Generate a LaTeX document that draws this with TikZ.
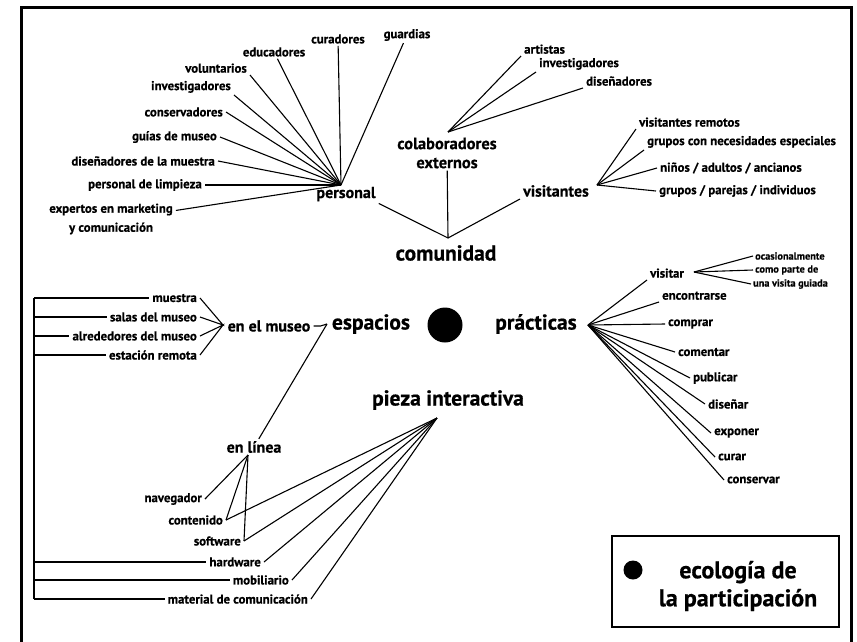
\documentclass[tikz,border=0pt]{standalone}
\usepackage{fontspec}
\setmainfont{PT Sans}[BoldFeatures={FakeBold=0.6}]
\begin{document}
\begin{tikzpicture}[x=1pt,y=-1pt,
  every node/.style={inner xsep=3pt,inner ysep=2pt},
  leaf/.style={font=\bfseries\fontsize{12.8}{19}\selectfont},
  tiny/.style={font=\bfseries\fontsize{10.3}{11}\selectfont,inner xsep=2pt},
  mid/.style={font=\bfseries\fontsize{16}{19}\selectfont},
  big/.style={font=\bfseries\fontsize{21.5}{22}\selectfont},
  link/.style={line width=1.1pt}]
\useasboundingbox (0,0) rectangle (857,641);
\draw [line width=3pt] (21.5,660) -- (21.5,7.5) -- (851.5,7.5) -- (851.5,660);

% comunidad
\node (comunidad) at (446,253) [big] {comunidad};
\coordinate (K) at (448,238);

\node (personal) at (346,194) [mid] {personal};
\coordinate (P) at (341,185);
\node (guardias) at (407,35) [leaf] {guardias};
\node (curadores) at (338,39) [leaf] {curadores};
\node (educadores) at (274,52) [leaf] {educadores};
\node (voluntarios) at (250,75) [leaf,anchor=south east] {voluntarios};
\node (investigadores) at (234,95) [leaf,anchor=south east] {investigadores};
\node (conservadores) at (226,112) [leaf,anchor=east] {conservadores};
\node (guias) at (220,137) [leaf,anchor=east] {guías de museo};
\node (disenadores) at (218,161) [leaf,anchor=east] {diseñadores de la muestra};
\node (limpieza) at (205,185) [leaf,anchor=east] {personal de limpieza};
\node (expertos) at (111,219) [leaf,align=center] {expertos en marketing\\y comunicación};
\draw [link] (P) -- (guardias);
\draw [link] (P) -- (curadores);
\draw [link] (P) -- (educadores);
\draw [link] (P) -- (voluntarios.south east);
\draw [link] (P) -- (investigadores.south east);
\draw [link] (P) -- (conservadores.east);
\draw [link] (P) -- (guias.east);
\draw [link] (P) -- (disenadores.east);
\draw [link] (P) -- (limpieza.east);
\draw [link] (P) -- ([yshift=-9pt]expertos.north east);

\node (colab) at (447,153) [mid,font=\bfseries\fontsize{16.5}{19}\selectfont,align=center] {colaboradores\\externos};
\coordinate (C) at (448,132);
\node (artistas) at (521,56) [leaf,anchor=south west] {artistas};
\node (invexternos) at (536,72) [leaf,anchor=south west] {investigadores};
\node (disexternos) at (583,88) [leaf,anchor=south west] {diseñadores};
\draw [link] (C) -- (artistas.south west);
\draw [link] (C) -- (invexternos.south west);
\draw [link] (C) -- (disexternos.south west);

\node (visitantes) at (556,191) [mid] {visitantes};
\coordinate (V) at (597,185);
\node (remotos) at (636,129) [leaf,anchor=south west] {visitantes remotos};
\node (especiales) at (644,150) [leaf,anchor=south west] {grupos con necesidades especiales};
\node (edades) at (657,168) [leaf,anchor=west] {niños / adultos / ancianos};
\node (grupos) at (656,191) [leaf,anchor=west] {grupos / parejas / individuos};
\draw [link] (V) -- (remotos.south west);
\draw [link] (V) -- (especiales.south west);
\draw [link] (V) -- (edades.west);
\draw [link] (V) -- (grupos.west);

\draw [link] (personal.south east) -- (K) -- (visitantes.south west);
\draw [link] (K) -- (colab);

% centro
\node (ecologia) at (445,325) [circle,fill,minimum size=35pt,inner sep=0pt] {};

% espacios
\node (espacios) at (371,324) [big] {espacios};
\coordinate (S) at (327,324);
\coordinate (B) at (34,0);
\node (enmuseo) at (269,326) [mid] {en el museo};
\coordinate (M) at (223,325);
\node (muestra) at (200,298) [leaf,anchor=east] {muestra};
\node (salas) at (200,317) [leaf,anchor=east] {salas del museo};
\node (alrededores) at (200,336) [leaf,anchor=east] {alrededores del museo};
\node (remota) at (200,355) [leaf,anchor=east] {estación remota};
\draw [link] (muestra.east) -- (M) -- (salas.east);
\draw [link] (alrededores.east) -- (M) -- (remota.east);
\draw [link] (enmuseo.east) -- ++(7,0) -- (S);

\node (enlinea) at (254,447) [mid] {en línea};
\coordinate (L) at (248,455);
\node (navegador) at (205,499) [leaf,anchor=east] {navegador};
\node (contenido) at (226,520) [leaf,anchor=east] {contenido};
\node (software) at (244,541) [leaf,anchor=east] {software};
\draw [link] (enlinea) -- (S);
\draw [link] (L) -- (navegador.east);
\draw [link] (L) -- (contenido.east);
\draw [link] (L) -- (software.east);

% pieza interactiva
\node (pieza) at (448,400) [big] {pieza interactiva};
\coordinate (Z) at (437,418);
\node (hardware) at (264,562) [leaf,anchor=east] {hardware};
\node (mobiliario) at (292,580) [leaf,anchor=east] {mobiliario};
\node (material) at (311,599) [leaf,anchor=east] {material de comunicación};
\draw [link] (Z) -- (contenido.east);
\draw [link] (Z) -- (software.east);
\draw [link] (Z) -- (hardware.east);
\draw [link] (Z) -- (mobiliario.east);
\draw [link] (Z) -- (material.east);

\draw [link] (muestra.west -| B) -- (material.west -| B);
\draw [link] (muestra.west -| B) -- (muestra.west);
\draw [link] (salas.west -| B) -- (salas.west);
\draw [link] (alrededores.west -| B) -- (alrededores.west);
\draw [link] (remota.west -| B) -- (remota.west);
\draw [link] (hardware.west -| B) -- (hardware.west);
\draw [link] (mobiliario.west -| B) -- (mobiliario.west);
\draw [link] (material.west -| B) -- (material.west);

% practicas
\node (practicas) at (536,324) [big] {prácticas};
\coordinate (R) at (588,325);
\node (visitar) at (647,280) [leaf,anchor=south west] {visitar};
\node (encontrarse) at (659,302) [leaf,anchor=south west] {encontrarse};
\node (comprar) at (665,324) [leaf,anchor=west] {comprar};
\node (comentar) at (675,352) [leaf,anchor=west] {comentar};
\node (publicar) at (690,378) [leaf,anchor=west] {publicar};
\node (disenar) at (705,404) [leaf,anchor=west] {diseñar};
\node (exponer) at (711,433) [leaf,anchor=west] {exponer};
\node (curar) at (715,457) [leaf,anchor=west] {curar};
\node (conservar) at (724,480) [leaf,anchor=west] {conservar};
\draw [link] (R) -- (visitar.south west);
\draw [link] (R) -- (encontrarse.south west);
\draw [link] (R) -- (comprar.west);
\draw [link] (R) -- (comentar.west);
\draw [link] (R) -- (publicar.west);
\draw [link] (R) -- (disenar.west);
\draw [link] (R) -- (exponer.west);
\draw [link] (R) -- (curar.west);
\draw [link] (R) -- (conservar.west);

\coordinate (W) at (694,272);
\node (ocasional) at (753,256) [tiny,anchor=west] {ocasionalmente};
\node (comoparte) at (753,270) [tiny,anchor=west] {como parte de};
\node (guiada) at (751,284) [tiny,anchor=west] {una visita guiada};
\draw [link] (W) -- (ocasional.west);
\draw [link] (W) -- (comoparte.west);
\draw [link] (W) -- (guiada.west);

% leyenda
\node (leyenda) at (725.5,581.5) [draw,line width=2pt,minimum width=227pt,minimum height=91pt] {};
\node (punto) at (633,570) [circle,fill,minimum size=19pt,inner sep=0pt] {};
\node (titulo) at (738,586) [align=center,font=\bfseries\fontsize{24}{28}\selectfont] {ecología de\\la participación};
\end{tikzpicture}
\end{document}
